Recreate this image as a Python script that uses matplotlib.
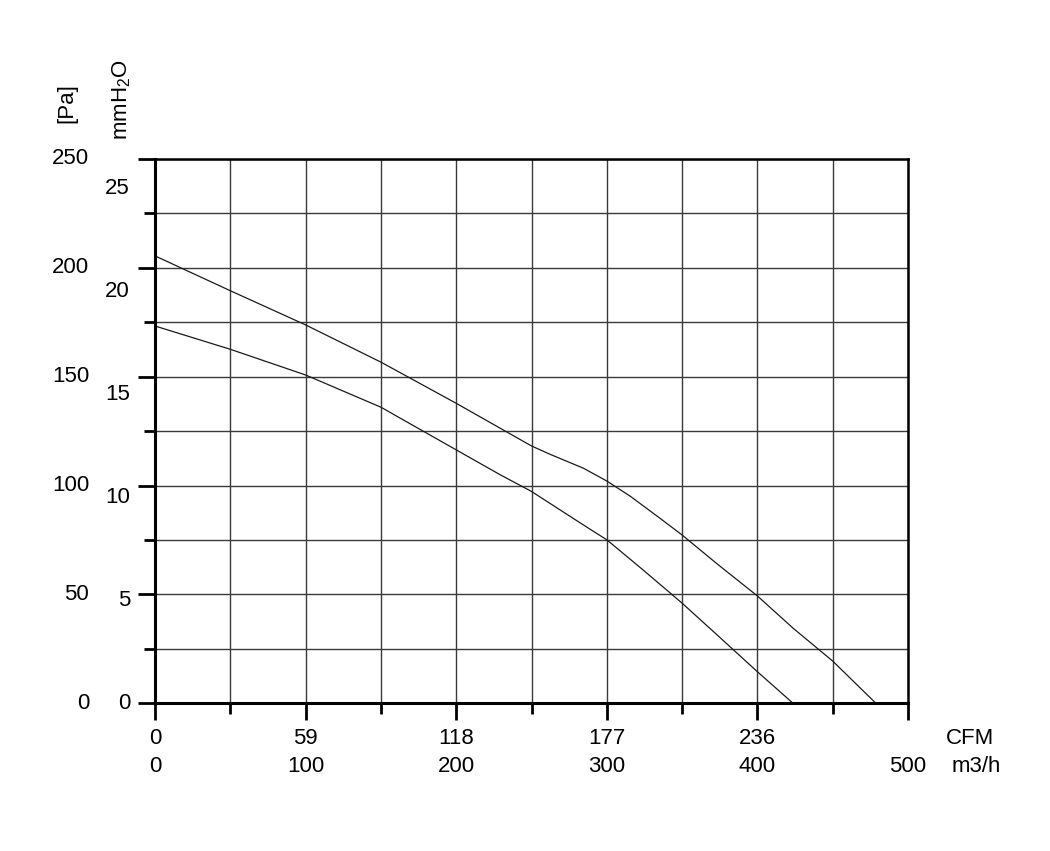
import numpy as np
import matplotlib
matplotlib.use("Agg")
import matplotlib.pyplot as plt
from matplotlib.transforms import blended_transform_factory

plt.rcParams['font.family'] = ['Liberation Sans', 'DejaVu Sans']
plt.rcParams['mathtext.default'] = 'regular'

# --- data ---
# curve 1 (upper): airflow m3/h vs static pressure Pa
flow_hi = [0, 50, 100, 150, 200, 250, 262.2, 284.4, 300,
           315.4, 335.3, 350, 372.8, 400, 423.7, 450, 478.7]
pa_hi = [205.5, 189.5, 173.8, 156.7, 137.8, 118.2, 114.4, 108.0, 102.1,
         95.2, 85.0, 77.3, 64.3, 49.3, 34.5, 19.4, 0]
# curve 2 (lower)
flow_lo = [0, 50, 100, 150, 200, 229.4, 250, 273.3, 288.8, 300, 324, 350, 375, 400, 423.7]
pa_lo = [173.3, 162.6, 150.8, 136.0, 116.4, 104.9, 97.3, 86.9, 80.0, 75.1, 61.3, 46.0, 30.3, 14.5, 0]

pa_labels = [0, 50, 100, 150, 200, 250]
mm_labels = [0, 5, 10, 15, 20, 25]
pa_per_mm = 9.45  # spacing of the mmH2O labels as drawn
m3h_labels = [0, 100, 200, 300, 400, 500]
cfm_labels = ["0", "59", "118", "177", "236", ""]

fig = plt.figure(figsize=(10.5, 8.51), dpi=100)
ax = fig.add_axes([155 / 1050, 1 - 703.3 / 851, 753 / 1050, 544.3 / 851])

line_kw = dict(color='#1a1a1a', linewidth=0.9)
ax.plot(flow_hi, pa_hi, **line_kw)
ax.plot(flow_lo, pa_lo, **line_kw)

ax.set_xlim(0, 500)
ax.set_ylim(0, 250)
ax.set_xticks(np.arange(0, 501, 100))
ax.set_xticks(np.arange(50, 500, 100), minor=True)
ax.set_yticks(np.arange(0, 251, 50))
ax.set_yticks(np.arange(25, 250, 50), minor=True)
ax.set_xticklabels([])
ax.set_yticklabels([])
ax.tick_params(which='major', direction='out', length=12, width=2, color='black')
ax.tick_params(which='minor', direction='out', length=8, width=2, color='black')
ax.grid(True, which='both', color='#3a3a3a', linewidth=1.0)
ax.set_axisbelow(True)

for side in ['left', 'bottom']:
    ax.spines[side].set_linewidth(2.2)
for side in ['top', 'right']:
    ax.spines[side].set_linewidth(1.8)

fs = 16
ty = blended_transform_factory(ax.transAxes, ax.transData)
for v in pa_labels:
    ax.text(-0.0876, v, str(v), transform=ty, ha='right', va='center', fontsize=fs)
for v in mm_labels:
    ax.text(-0.0332, v * pa_per_mm, str(v), transform=ty, ha='right', va='center', fontsize=fs)

tx = blended_transform_factory(ax.transData, ax.transAxes)
for v, c in zip(m3h_labels, cfm_labels):
    if c:
        ax.text(v, -0.064, c, transform=tx, ha='center', va='center', fontsize=fs)
    ax.text(v, -0.1167, str(v), transform=tx, ha='center', va='center', fontsize=fs)

ax.text(1.082, -0.064, "CFM", transform=ax.transAxes, ha='center', va='center', fontsize=fs)
ax.text(1.090, -0.1167, "m3/h", transform=ax.transAxes, ha='center', va='center', fontsize=fs)

fig.text(67 / 1050, 1 - 103 / 851, "[Pa]", rotation=90, ha='center', va='center', fontsize=fs)
fig.text(122 / 1050, 1 - 100 / 851, "mmH$_2$O", rotation=90, ha='center', va='center', fontsize=fs)

fig.savefig("out.png", dpi=100)
